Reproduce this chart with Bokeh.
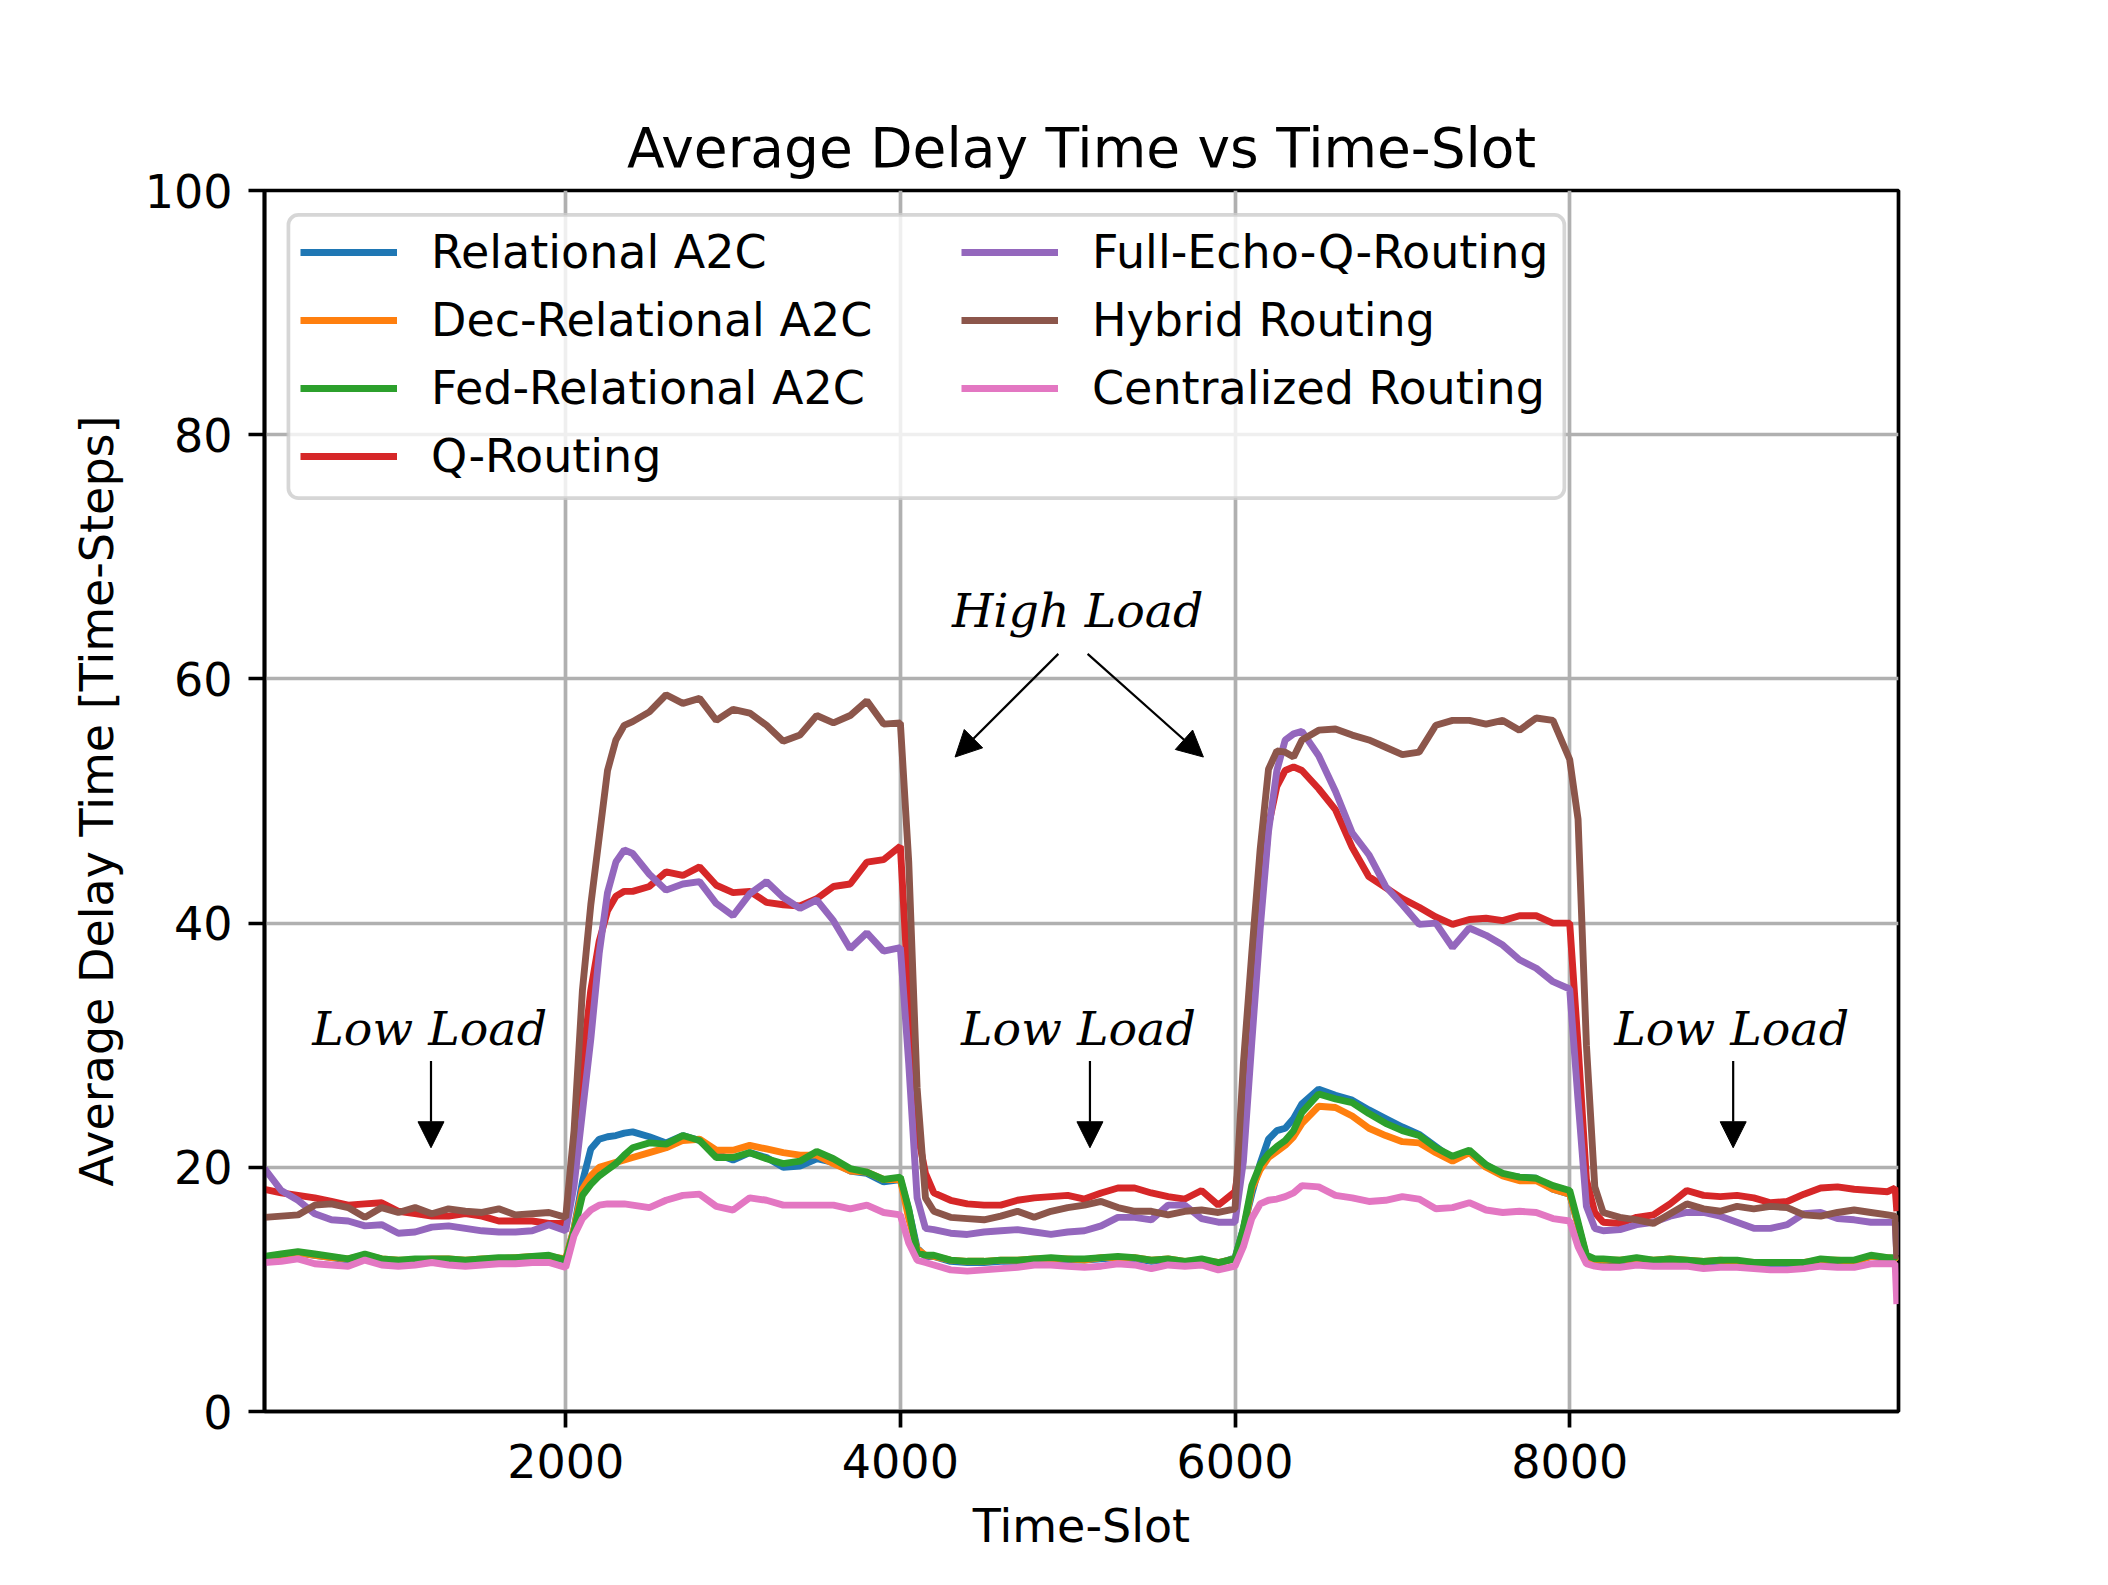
from bokeh.plotting import figure
from bokeh.models import (Range1d, Legend, LegendItem, Label, Arrow, NormalHead,
                          BoxAnnotation, FixedTicker)
from bokeh.embed import file_html
from bokeh.resources import INLINE

# ---------------- data ----------------
X = [200, 300, 400, 500, 600, 700, 800, 900, 1000, 1100, 1200, 1300, 1400, 1500, 1600, 1700, 1800, 1900,
     2000, 2050, 2100, 2150, 2200, 2250, 2300, 2350, 2400,
     2500, 2600, 2700, 2800, 2900, 3000, 3100, 3200, 3300, 3400, 3500, 3600, 3700, 3800, 3900,
     4000, 4050, 4100, 4150, 4200,
     4300, 4400, 4500, 4600, 4700, 4800, 4900, 5000, 5100, 5200, 5300, 5400, 5500, 5600, 5700, 5800, 5900,
     6000, 6050, 6100, 6150, 6200, 6250, 6300, 6350, 6400,
     6500, 6600, 6700, 6800, 6900, 7000, 7100, 7200, 7300, 7400, 7500, 7600, 7700, 7800, 7900,
     8000, 8050, 8100, 8150, 8200,
     8300, 8400, 8500, 8600, 8700, 8800, 8900, 9000, 9100, 9200, 9300, 9400, 9500, 9600, 9700, 9800, 9900,
     9945, 9955]

relational_a2c = [
    12.6, 12.8, 13.0, 12.8, 12.6, 12.4, 12.8, 12.4, 12.3, 12.4, 12.4, 12.4, 12.3, 12.4, 12.5, 12.5, 12.6, 12.7,
    12.4, 15.0, 18.8, 21.5, 22.3, 22.5, 22.6, 22.8, 22.9,
    22.5, 22.0, 22.6, 22.2, 21.1, 20.6, 21.2, 20.8, 20.0, 20.1, 20.7, 20.4, 19.7, 19.5, 18.8,
    19.0, 16.5, 13.4, 12.7, 12.7,
    12.3, 12.2, 12.2, 12.3, 12.3, 12.4, 12.5, 12.4, 12.4, 12.5, 12.6, 12.5, 12.3, 12.4, 12.2, 12.4, 12.1,
    12.6, 15.0, 17.8, 20.3, 22.3, 23.0, 23.2, 24.0, 25.2,
    26.4, 25.9, 25.5, 24.7, 24.0, 23.3, 22.7, 21.7, 20.7, 21.3, 20.2, 19.4, 19.2, 19.1, 18.2,
    17.8, 15.3, 12.6, 12.3, 12.4,
    12.3, 12.5, 12.3, 12.4, 12.3, 12.2, 12.3, 12.3, 12.1, 12.1, 12.1, 12.1, 12.4, 12.3, 12.3, 12.7, 12.5,
    12.5, 12.3]

dec_relational_a2c = [
    12.6, 12.8, 13.0, 12.8, 12.6, 12.5, 12.8, 12.5, 12.4, 12.4, 12.5, 12.5, 12.4, 12.5, 12.5, 12.6, 12.7, 12.7,
    12.5, 15.0, 18.2, 19.3, 20.0, 20.2, 20.4, 20.6, 20.8,
    21.2, 21.6, 22.2, 22.3, 21.4, 21.4, 21.8, 21.5, 21.2, 21.0, 21.0, 20.3, 19.7, 19.6, 19.0,
    19.0, 15.8, 13.3, 12.8, 12.7,
    12.4, 12.3, 12.3, 12.4, 12.4, 12.5, 12.5, 12.5, 12.4, 12.6, 12.6, 12.6, 12.4, 12.5, 12.3, 12.4, 12.2,
    12.5, 14.8, 18.2, 19.8, 20.8, 21.3, 21.8, 22.5, 23.6,
    25.0, 24.9, 24.2, 23.2, 22.6, 22.1, 22.0, 21.2, 20.5, 21.2, 20.0, 19.3, 18.9, 18.9, 18.2,
    17.8, 15.3, 12.7, 12.4, 12.4,
    12.4, 12.5, 12.4, 12.5, 12.4, 12.3, 12.4, 12.3, 12.2, 12.2, 12.2, 12.2, 12.4, 12.4, 12.3, 12.7, 12.6,
    12.5, 12.3]

fed_relational_a2c = [
    12.7, 12.9, 13.1, 12.9, 12.7, 12.5, 12.9, 12.5, 12.4, 12.5, 12.5, 12.5, 12.4, 12.5, 12.6, 12.6, 12.7, 12.8,
    12.4, 14.8, 17.7, 18.6, 19.3, 19.8, 20.3, 21.0, 21.6,
    22.0, 21.9, 22.6, 22.2, 20.8, 20.8, 21.2, 20.7, 20.3, 20.5, 21.3, 20.7, 19.9, 19.6, 19.0,
    19.2, 16.6, 13.0, 12.8, 12.8,
    12.4, 12.3, 12.3, 12.4, 12.4, 12.5, 12.6, 12.5, 12.5, 12.6, 12.7, 12.6, 12.4, 12.5, 12.3, 12.5, 12.2,
    12.5, 15.0, 18.5, 20.2, 21.1, 21.7, 22.2, 23.0, 24.5,
    26.0, 25.6, 25.3, 24.4, 23.6, 23.0, 22.6, 21.6, 20.9, 21.4, 20.2, 19.5, 19.2, 19.1, 18.5,
    18.1, 15.5, 12.8, 12.5, 12.5,
    12.4, 12.6, 12.4, 12.5, 12.4, 12.3, 12.4, 12.4, 12.2, 12.2, 12.2, 12.2, 12.5, 12.4, 12.4, 12.8, 12.6,
    12.6, 12.4]

q_routing = [
    18.2, 17.9, 17.7, 17.5, 17.2, 16.9, 17.0, 17.1, 16.4, 16.2, 16.0, 16.0, 16.2, 16.0, 15.6, 15.6, 15.6, 15.4,
    15.4, 21.0, 28.5, 34.5, 38.5, 41.0, 42.2, 42.6, 42.6,
    43.0, 44.2, 43.9, 44.6, 43.1, 42.5, 42.6, 41.7, 41.5, 41.4, 42.0, 43.0, 43.2, 45.0, 45.2,
    46.3, 33.8, 23.0, 19.5, 17.9,
    17.3, 17.0, 16.9, 16.9, 17.3, 17.5, 17.6, 17.7, 17.4, 17.9, 18.3, 18.3, 17.9, 17.6, 17.4, 18.1, 16.9,
    18.0, 22.5, 32.0, 40.5, 48.0, 51.2, 52.5, 52.8, 52.5,
    51.0, 49.3, 46.2, 43.8, 42.9, 42.0, 41.3, 40.5, 39.9, 40.3, 40.4, 40.2, 40.6, 40.6, 40.0,
    40.0, 30.0, 19.0, 16.3, 15.5,
    15.4, 15.9, 16.1, 17.0, 18.1, 17.7, 17.6, 17.7, 17.5, 17.1, 17.2, 17.8, 18.3, 18.4, 18.2, 18.1, 18.0,
    18.3, 16.4]

full_echo_q_routing = [
    19.9, 18.1, 17.3, 16.2, 15.7, 15.6, 15.2, 15.3, 14.6, 14.7, 15.1, 15.2, 15.0, 14.8, 14.7, 14.7, 14.8, 15.3,
    14.8, 18.5, 24.5, 30.5, 37.5, 42.5, 45.0, 46.0, 45.7,
    44.0, 42.7, 43.2, 43.4, 41.6, 40.6, 42.4, 43.4, 42.1, 41.2, 41.9, 40.2, 37.9, 39.2, 37.7,
    38.0, 28.5, 17.5, 15.0, 14.9,
    14.6, 14.5, 14.7, 14.8, 14.9, 14.7, 14.5, 14.7, 14.8, 15.2, 15.9, 15.9, 15.7, 16.9, 16.9, 15.8, 15.5,
    15.5, 20.5, 30.2, 39.5, 47.5, 52.5, 55.0, 55.5, 55.7,
    53.7, 50.8, 47.4, 45.6, 43.0, 41.5, 39.9, 40.0, 38.0, 39.6, 39.0, 38.2, 37.0, 36.3, 35.2,
    34.6, 25.5, 16.8, 15.0, 14.8,
    14.9, 15.3, 15.5, 16.0, 16.3, 16.3, 16.0, 15.5, 15.0, 15.0, 15.3, 16.2, 16.3, 15.8, 15.7, 15.5, 15.5,
    15.5, 12.8]

hybrid_routing = [
    15.9, 16.0, 16.1, 16.9, 17.0, 16.7, 15.9, 16.7, 16.3, 16.7, 16.2, 16.6, 16.4, 16.3, 16.6, 16.1, 16.2, 16.3,
    15.9, 23.0, 34.5, 41.5, 47.0, 52.5, 55.0, 56.2, 56.5,
    57.3, 58.7, 58.0, 58.4, 56.6, 57.5, 57.2, 56.2, 54.9, 55.4, 57.0, 56.4, 57.0, 58.2, 56.3,
    56.4, 45.0, 26.5, 17.5, 16.4,
    15.9, 15.8, 15.7, 16.0, 16.4, 15.9, 16.4, 16.7, 16.9, 17.2, 16.7, 16.4, 16.4, 16.1, 16.4, 16.5, 16.3,
    16.6, 28.5, 37.5, 46.0, 52.6, 54.1, 54.0, 53.6, 55.0,
    55.8, 55.9, 55.4, 55.0, 54.4, 53.8, 54.0, 56.2, 56.6, 56.6, 56.3, 56.6, 55.8, 56.8, 56.6,
    53.4, 48.5, 30.0, 18.4, 16.3,
    15.9, 15.7, 15.4, 16.2, 17.0, 16.6, 16.4, 16.8, 16.6, 16.8, 16.7, 16.1, 16.0, 16.3, 16.5, 16.3, 16.1,
    16.0, 12.5]

centralized_routing = [
    12.2, 12.3, 12.5, 12.1, 12.0, 11.9, 12.4, 12.0, 11.9, 12.0, 12.2, 12.0, 11.9, 12.0, 12.1, 12.1, 12.2, 12.2,
    11.8, 14.4, 15.8, 16.5, 16.9, 17.0, 17.0, 17.0, 16.9,
    16.7, 17.3, 17.7, 17.8, 16.8, 16.5, 17.5, 17.3, 16.9, 16.9, 16.9, 16.9, 16.6, 16.9, 16.3,
    16.1, 13.8, 12.4, 12.2, 12.0,
    11.6, 11.5, 11.6, 11.7, 11.8, 12.0, 12.0, 11.9, 11.8, 11.9, 12.1, 12.0, 11.7, 12.0, 11.9, 12.0, 11.6,
    11.9, 13.5, 15.8, 17.0, 17.3, 17.4, 17.6, 17.9, 18.5,
    18.4, 17.7, 17.5, 17.2, 17.3, 17.6, 17.4, 16.6, 16.7, 17.1, 16.5, 16.3, 16.4, 16.3, 15.8,
    15.6, 13.5, 12.1, 11.9, 11.8,
    11.8, 12.0, 11.9, 11.9, 11.9, 11.7, 11.8, 11.8, 11.7, 11.6, 11.6, 11.7, 11.9, 11.8, 11.8, 12.1, 12.1,
    12.1, 8.8]

series_names = ["Relational A2C", "Dec-Relational A2C", "Fed-Relational A2C", "Q-Routing",
                "Full-Echo-Q-Routing", "Hybrid Routing", "Centralized Routing"]
series_values = [relational_a2c, dec_relational_a2c, fed_relational_a2c, q_routing,
                 full_echo_q_routing, hybrid_routing, centralized_routing]
series_colors = ["#1f77b4", "#ff7f0e", "#2ca02c", "#d62728", "#9467bd", "#8c564b", "#e377c2"]

x_ticks = [2000, 4000, 6000, 8000]
y_ticks = [0, 20, 40, 60, 80, 100]

# annotation anchors (data coordinates)
low_text = [(1187, 31.4), (5064, 31.4), (8968, 31.4)]
low_arrow_x = [1195, 5133, 8977]
high_text = (5060, 65.6)
high_arrows = [((4944, 62.05), (4327, 53.6)), ((5119, 62.05), (5811, 53.6))]

# ---------------- figure ----------------
FONT = "DejaVu Sans"
p = figure(width=2100, height=1577, output_backend="svg", toolbar_location=None,
           x_range=Range1d(200, 9965), y_range=Range1d(0, 100),
           min_border_left=264, min_border_right=202, min_border_top=190, min_border_bottom=166,
           background_fill_color="white", border_fill_color="white")

p.title.text = "Average Delay Time vs Time-Slot"
p.title.align = "center"
p.title.text_font = FONT
p.title.text_font_size = "55px"
p.title.text_font_style = "normal"
p.title.text_color = "black"
p.title.standoff = 22

p.outline_line_color = "black"
p.outline_line_width = 3.7
p.outline_line_alpha = 1.0

for ax, ticks, lab in ((p.xaxis, x_ticks, "Time-Slot"),
                       (p.yaxis, y_ticks, "Average Delay Time [Time-Steps]")):
    ax.ticker = FixedTicker(ticks=ticks)
    ax.axis_label = lab
    ax.axis_label_text_font = FONT
    ax.axis_label_text_font_size = "46px"
    ax.axis_label_text_font_style = "normal"
    ax.axis_label_text_color = "black"
    ax.axis_label_standoff = 18
    ax.major_label_text_font = FONT
    ax.major_label_text_font_size = "46px"
    ax.major_label_text_color = "black"
    ax.major_label_standoff = 16
    ax.axis_line_color = "black"
    ax.axis_line_width = 3.7
    ax.major_tick_line_color = "black"
    ax.major_tick_line_width = 3.7
    ax.major_tick_out = 16
    ax.major_tick_in = 0
    ax.minor_tick_line_color = None

for g in (p.xgrid, p.ygrid):
    g.grid_line_color = "#b0b0b0"
    g.grid_line_width = 3.7

renderers = []
for name, vals, col in zip(series_names, series_values, series_colors):
    r = p.line(X, vals, line_color=col, line_width=6.9)
    renderers.append(r)

# legend frame
frame = BoxAnnotation(left=343, right=7968, bottom=74.8, top=98.0,
                      fill_color="white", fill_alpha=0.8,
                      line_color="#cccccc", line_alpha=0.8, line_width=3.7,
                      border_radius=10)
p.add_layout(frame)

def make_legend(items, loc):
    lg = Legend(items=items, location=loc, orientation="vertical",
                glyph_width=97, glyph_height=60, label_height=60, spacing=8,
                label_standoff=34, padding=0, margin=0,
                border_line_alpha=0, background_fill_alpha=0,
                label_text_font=FONT, label_text_font_size="46px",
                label_text_color="black")
    return lg

items = [LegendItem(label=n, renderers=[r]) for n, r in zip(series_names, renderers)]
p.add_layout(make_legend(items[:4], (36, 925)))
p.add_layout(make_legend(items[4:], (697, 993)))

# annotations
for (tx, ty), ax_ in zip(low_text, low_arrow_x):
    p.add_layout(Label(x=tx, y=ty, text="Low Load", text_font="DejaVu Serif",
                       text_font_style="italic", text_font_size="47.5px",
                       text_align="center", text_baseline="middle", text_color="black"))
    p.add_layout(Arrow(x_start=ax_, y_start=28.7, x_end=ax_, y_end=21.6,
                       line_color="black", line_width=2.2,
                       end=NormalHead(size=26, fill_color="black", line_color="black", line_width=1)))

p.add_layout(Label(x=high_text[0], y=high_text[1], text="High Load", text_font="DejaVu Serif",
                   text_font_style="italic", text_font_size="47.5px",
                   text_align="center", text_baseline="middle", text_color="black"))
for (s, e) in high_arrows:
    p.add_layout(Arrow(x_start=s[0], y_start=s[1], x_end=e[0], y_end=e[1],
                       line_color="black", line_width=2.2,
                       end=NormalHead(size=26, fill_color="black", line_color="black", line_width=1)))

open("out.html", "w").write(file_html(p, INLINE))
